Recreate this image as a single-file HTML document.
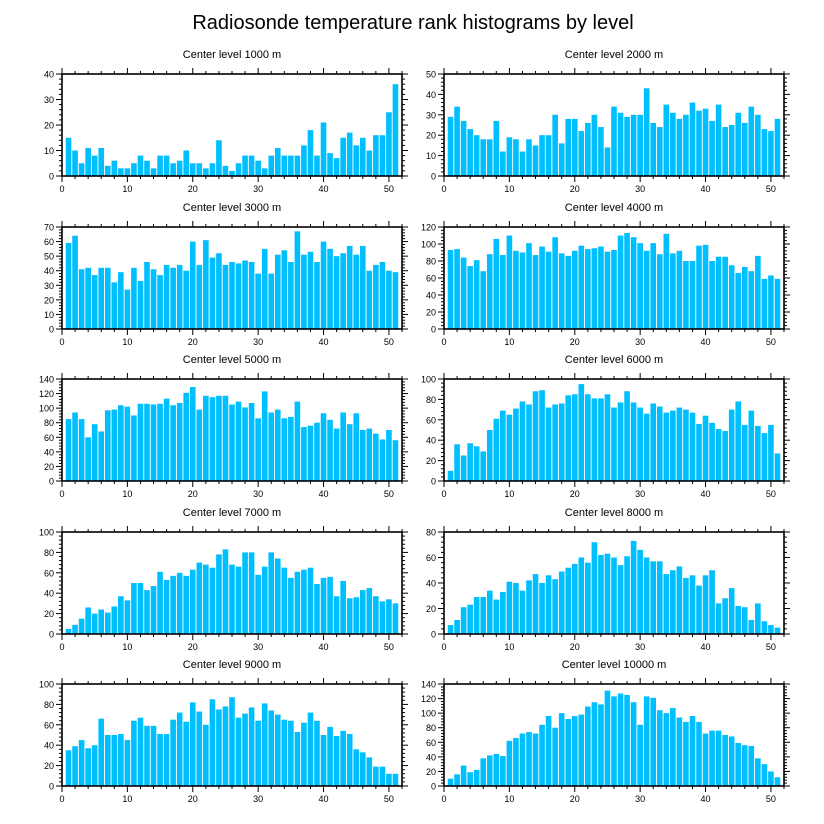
<!DOCTYPE html>
<html><head><meta charset="utf-8"><style>
html,body{margin:0;padding:0;background:#fff;}
svg{display:block;font-family:"Liberation Sans",sans-serif;}
</style></head><body>
<svg id="chart" width="824" height="824" viewBox="0 0 824 824">
<text x="413" y="29" font-size="20" text-anchor="middle" fill="#000">Radiosonde temperature rank histograms by level</text>
</svg>
<script>
const levels = ["1000","2000","3000","4000","5000","6000","7000","8000","9000","10000"];
const yMaxes = [40,50,70,120,140,100,100,80,100,140];
const ySteps = [10,10,10,20,20,20,20,20,20,20];
const xTicks = [0,10,20,30,40,50];
const v1000 = [15,10,5,11,8,11,4,6,3,3,5,8,6,3,8,8,5,6,10,5,5,3,5,14,4,2,5,8,8,6,3,8,11,8,8,8,12,18,8,21,9,7,15,17,12,15,10,16,16,25,36];
const v2000 = [29,34,27,23,20,18,18,27,12,19,18,12,18,15,20,20,30,16,28,28,22,26,30,24,14,34,31,29,30,30,43,26,24,35,31,28,30,36,32,33,27,35,24,25,31,26,34,30,23,22,28];
const v3000 = [59,64,41,42,37,42,42,32,39,27,42,33,46,41,37,44,42,44,40,60,44,61,49,52,44,46,45,47,46,38,55,38,51,54,46,67,51,53,46,60,55,50,52,57,51,57,40,44,46,40,39];
const v4000 = [93,94,84,74,81,68,88,106,87,110,92,90,101,87,97,91,108,89,86,92,98,94,95,97,91,93,110,113,108,101,92,101,88,112,89,92,80,80,98,99,80,85,85,75,66,73,68,86,59,63,59];
const v5000 = [85,94,85,60,78,68,97,98,104,102,90,106,106,105,106,113,104,107,121,129,98,117,115,117,117,105,109,101,107,86,123,94,98,86,88,109,74,76,80,93,84,72,94,78,93,70,72,65,57,70,56];
const v6000 = [10,36,25,37,34,29,50,61,69,65,71,78,75,88,89,72,75,76,84,85,95,85,81,81,85,72,77,88,77,72,66,76,73,67,69,72,70,67,56,64,57,51,49,70,78,55,69,54,47,55,27];
const v7000 = [5,9,15,26,20,24,21,27,37,33,50,50,43,47,61,53,57,60,57,63,70,68,65,78,83,68,66,80,80,58,66,80,74,65,55,61,63,65,49,55,56,37,52,35,36,43,45,37,32,34,30];
const v8000 = [7,11,21,23,29,29,34,27,33,41,40,34,42,47,40,46,43,49,52,55,60,56,72,62,63,60,54,61,73,66,60,57,57,47,50,53,44,46,38,46,50,24,28,36,22,21,11,24,10,7,5];
const v9000 = [35,39,45,37,40,66,50,50,51,45,64,67,59,59,51,51,65,72,63,82,73,60,85,75,78,87,67,71,77,64,81,74,70,65,64,53,62,72,64,50,58,49,54,51,36,33,28,19,19,12,12];
const v10000 = [10,16,28,19,22,38,42,44,41,62,66,72,74,72,84,96,80,100,92,96,98,109,115,112,131,123,127,125,115,84,123,121,104,100,107,94,88,96,88,72,76,76,70,68,59,56,55,38,30,20,12];
const series = [v1000,v2000,v3000,v4000,v5000,v6000,v7000,v8000,v9000,v10000];

const NS = "http://www.w3.org/2000/svg";
const svg = document.getElementById("chart");
function mk(tag, attrs, parent){
  const e = document.createElementNS(NS, tag);
  for (const k in attrs) e.setAttribute(k, attrs[k]);
  parent.appendChild(e); return e;
}
const W = 340, H = 102, XMAX = 52;
const lefts = [62, 444];
const tops = [74, 227, 379, 532, 684];

series.forEach((vals, i) => {
  const L = lefts[i % 2], T = tops[Math.floor(i / 2)];
  const ymax = yMaxes[i], step = ySteps[i];
  const xs = v => L + v / XMAX * W;
  const ys = v => T + H - v / ymax * H;
  const g = mk("g", {}, svg);
  
  
  const t = mk("text", {x: L + W/2, y: T - 16, "font-size": 11, "text-anchor": "middle", fill: "#000"}, g);
  t.textContent = "Center level " + levels[i] + " m";
  
  
  const bw = 0.86 * W / XMAX;
  vals.forEach((v, j) => {
    const r = mk("rect", {x: xs(j + 1) - bw/2, y: ys(v), width: bw, height: ys(0) - ys(v), fill: "#00BFFF"}, g);
    
    
  });
  // frame
  const fr = mk("rect", {x: L, y: T, width: W, height: H, fill: "none", stroke: "#000", "stroke-width": 1.6}, g);
  
  
  // x ticks
  for (let x = 0; x <= XMAX; x += 2) {
    const major = x % 10 === 0;
    const len = major ? 6 : 3;
    mk("line", {x1: xs(x), x2: xs(x), y1: T + H, y2: T + H + len, stroke: "#000", "stroke-width": 1}, g);
    mk("line", {x1: xs(x), x2: xs(x), y1: T, y2: T - len, stroke: "#000", "stroke-width": 1}, g);
  }
  xTicks.forEach(x => {
    const tl = mk("text", {x: xs(x), y: T + H + 16, "font-size": 9, "text-anchor": "middle", fill: "#000"}, g);
    tl.textContent = x;
    
    
  });
  // y ticks
  const minor = step / 5;
  for (let k = 0; k * minor <= ymax + 1e-9; k++) {
    const y = k * minor;
    const major = k % 5 === 0;
    const len = major ? 6 : 3;
    mk("line", {x1: L, x2: L - len, y1: ys(y), y2: ys(y), stroke: "#000", "stroke-width": 1}, g);
    mk("line", {x1: L + W, x2: L + W + len, y1: ys(y), y2: ys(y), stroke: "#000", "stroke-width": 1}, g);
    if (major) {
      const yl = mk("text", {x: L - 8, y: ys(y) + 3.5, "font-size": 9, "text-anchor": "end", fill: "#000"}, g);
      yl.textContent = y;
      
      
    }
  }
});
</script>
</body></html>
